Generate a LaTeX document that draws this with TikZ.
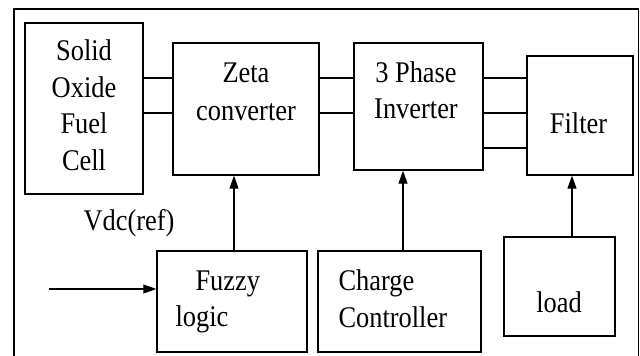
\documentclass[tikz,border=0pt]{standalone}
\usepackage{fontspec}
\setmainfont[FakeStretch=0.88]{Liberation Serif}
\usetikzlibrary{arrows.meta}

\begin{document}
\begin{tikzpicture}[x=1pt,y=-1pt,line width=1.1pt,
  blk/.style={draw,line width=1.3pt,inner sep=0pt},
  txt/.style={font=\fontsize{30}{36.5}\selectfont,inner sep=0pt},
  feed/.style={-{Triangle[length=13pt,width=9pt]},line width=1.1pt}]
\useasboundingbox (0,0) rectangle (640,356);
% outer frame, open at the bottom
\draw[line width=1.7pt] (14,360) -- (14,9) -- (638.5,9) -- (638.5,360);

% blocks
\node[blk,minimum width=118pt,minimum height=171pt] (sofc) at (84,108.5) {};
\node[blk,minimum width=146pt,minimum height=132pt] (zeta) at (246,109) {};
\node[blk,minimum width=129pt,minimum height=127pt] (inv) at (418.5,106.5) {};
\node[blk,minimum width=106pt,minimum height=119pt] (filter) at (580,115.5) {};
\node[blk,minimum width=150pt,minimum height=101pt] (fuzzy) at (232,301.5) {};
\node[blk,minimum width=163pt,minimum height=101pt] (charge) at (399.5,301.5) {};
\node[blk,minimum width=111pt,minimum height=99pt] (load) at (559.5,286.5) {};

% block texts
\node[txt,align=center,anchor=north] (sofctxt) at (84,39.5) {Solid\\Oxide\\Fuel\\Cell};
\node[txt,align=center,anchor=north,font=\fontsize{30}{38}\selectfont] (zetatxt) at (246,62) {Zeta\\converter};
\node[txt,align=center,anchor=north,font=\fontsize{30}{36}\selectfont] (invtxt) at (416,61.5) {3 Phase\\Inverter};
\node[txt,anchor=base] (filtertxt) at (578.5,133) {Filter};
\node[txt,align=left,anchor=north west] (fuzzytxt) at (175,270) {\hspace{20pt}Fuzzy\\logic};
\node[txt,align=left,anchor=north west] (chargetxt) at (338,269.5) {Charge\\Controller};
\node[txt,anchor=base] (loadtxt) at (559,312) {load};
\node[txt,anchor=base] (vref) at (129,230) {Vdc(ref)};

% power wires
\foreach \y in {78,113}{
  \draw (sofc.east |- 0,\y) -- (zeta.west |- 0,\y);
  \draw (zeta.east |- 0,\y) -- (inv.west |- 0,\y);
}
\foreach \y in {78,113,148}
  \draw (inv.east |- 0,\y) -- (filter.west |- 0,\y);

% control signals
\coordinate (vin) at (49,289);
\draw[feed] (vin) -- (vin -| fuzzy.west);
\draw[feed] ([xshift=2pt]fuzzy.north) -- ([xshift=2pt]fuzzy.north |- zeta.south);
\draw[feed] ([xshift=3.5pt]charge.north) -- ([xshift=3.5pt]charge.north |- inv.south);
\draw[feed] ([xshift=12.5pt]load.north) -- ([xshift=12.5pt]load.north |- filter.south);
\end{tikzpicture}
\end{document}
